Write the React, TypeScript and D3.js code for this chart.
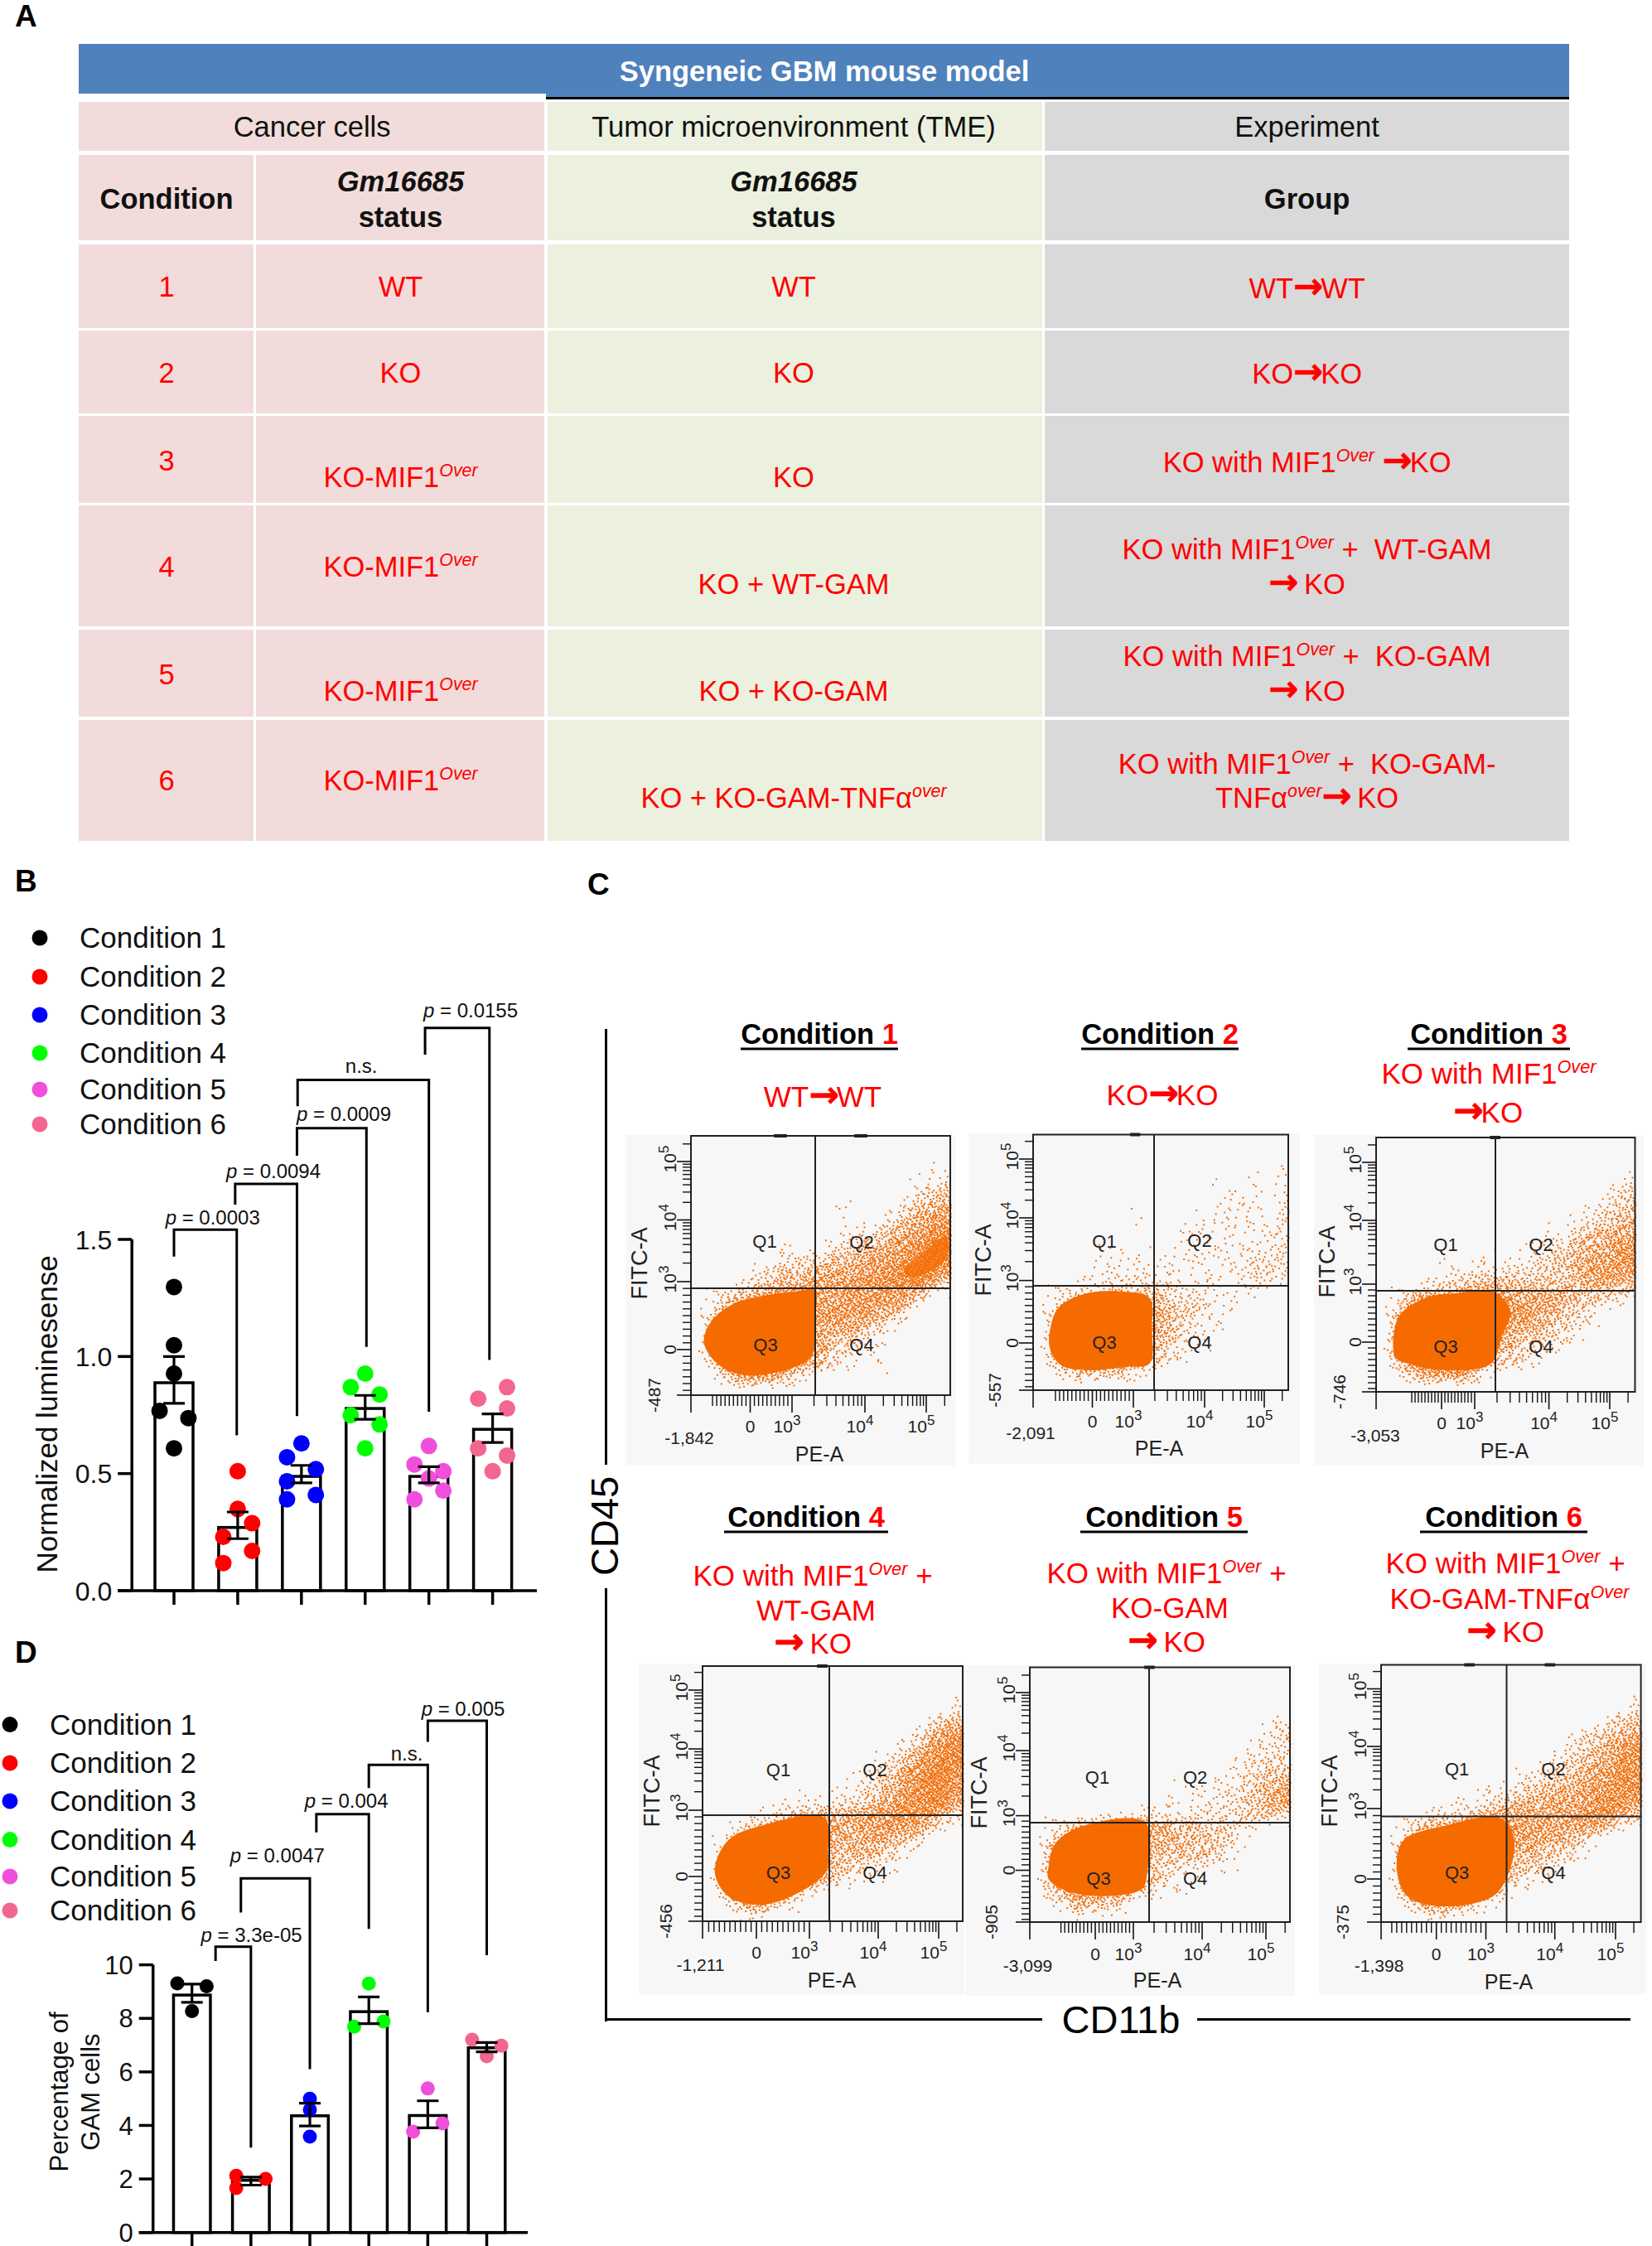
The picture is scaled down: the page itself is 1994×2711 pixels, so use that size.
import React from "react";
import * as d3 from "d3";

const FONT = "'Liberation Sans', Arial, sans-serif";
const RED = "#ff0000";

// ---------- Panel A data ----------
const tableTitle = "Syngeneic GBM mouse model";
const tableGroups = ["Cancer cells", "Tumor microenvironment (TME)", "Experiment"];
const tableConditions = ["1", "2", "3", "4", "5", "6"];
const tableCancer = ["WT", "KO", "KO-MIF1^Over^", "KO-MIF1^Over^", "KO-MIF1^Over^", "KO-MIF1^Over^"];
const tableTme = ["WT", "KO", "KO", "KO + WT-GAM", "KO + KO-GAM", "KO + KO-GAM-TNFα^over^"];
const tableGroup = [
  ["WT→WT"],
  ["KO→KO"],
  ["KO with MIF1^Over^ →KO"],
  ["KO with MIF1^Over^ +  WT-GAM", "→ KO"],
  ["KO with MIF1^Over^ +  KO-GAM", "→ KO"],
  ["KO with MIF1^Over^ +  KO-GAM-", "TNFα^over^→ KO"],
];

// ---------- Panels B and D data ----------
const legendNames = ["Condition 1", "Condition 2", "Condition 3", "Condition 4", "Condition 5", "Condition 6"];
const conditionColors = ["#000000", "#ff0000", "#0000ff", "#00ff00", "#f04fdc", "#f2668f"];

const lumMeans = [0.888, 0.27, 0.488, 0.778, 0.488, 0.689];
const lumUpper = [1.0, 0.336, 0.535, 0.834, 0.529, 0.755];
const lumLower = [0.8, 0.222, 0.46, 0.732, 0.46, 0.633];
const lumDots = [
  [1.297, 1.048, 0.927, 0.768, 0.737, 0.608],
  [0.51, 0.349, 0.288, 0.23, 0.17, 0.118],
  [0.629, 0.57, 0.519, 0.467, 0.409, 0.39],
  [0.927, 0.869, 0.838, 0.749, 0.71, 0.608],
  [0.618, 0.539, 0.51, 0.479, 0.427, 0.39],
  [0.869, 0.82, 0.778, 0.608, 0.577, 0.51],
];
const lumDotSides = [
  [0, 0, 0, -1, 1, 0],
  [0, 0, 1, -1, 1, -1],
  [0, -1, 1, -1, 1, -1],
  [0, -1, 1, -1, 1, 0],
  [0, -1, 1, 0, 1, -1],
  [1, -1, 1, -1, 1, 0],
];
// from, to, top, left foot, right foot, label x, label y, label
const lumBrackets: [number, number, number, number, number, number, number, string][] = [
  [0, 0.985, 1.542, 1.427, 0.663, 0.607, 1.592, "0.0003"],
  [0.96, 1.93, 1.737, 1.649, 0.746, 1.56, 1.79, "0.0094"],
  [1.93, 3.02, 1.975, 1.857, 1.041, 2.665, 2.034, "0.0009"],
  [1.94, 4.0, 2.181, 2.069, 0.764, 2.94, 2.241, "n.s."],
  [3.94, 4.95, 2.403, 2.289, 0.985, 4.654, 2.476, "0.0155"],
];

const gamMeans = [8.87, 1.95, 4.36, 8.25, 4.37, 6.9];
const gamUpper = [9.28, 2.07, 4.83, 8.8, 4.92, 7.1];
const gamLower = [8.6, 1.77, 3.98, 7.8, 3.91, 6.75];
const gamDots = [
  [9.31, 9.2, 8.27],
  [2.12, 2.0, 1.66],
  [5.0, 4.59, 3.58],
  [9.3, 7.69, 7.88],
  [5.38, 3.77, 4.08],
  [7.2, 6.98, 6.58],
];
const gamDotSides = [
  [-1, 1, 0],
  [-1, 1, -1],
  [0, 0, 0],
  [0, -1, 1],
  [0, -1, 1],
  [-1, 1, 0],
];
const gamBrackets: [number, number, number, number, number, number, number, string][] = [
  [0.4, 1.0, 10.68, 10.14, 3.17, 1.01, 11.11, "3.3e-05"],
  [0.83, 2.0, 13.23, 11.95, 6.1, 1.45, 14.07, "0.0047"],
  [2.11, 3.0, 15.63, 14.95, 11.34, 2.62, 16.13, "0.004"],
  [3.0, 4.0, 17.47, 16.6, 8.23, 3.645, 17.89, "n.s."],
  [4.0, 5.0, 19.12, 18.33, 10.36, 4.6, 19.55, "0.005"],
];

// ---------- Panel C data ----------
const flowNumbers = ["1", "2", "3", "4", "5", "6"];
const flowSubtitles = [
  ["WT→WT"],
  ["KO→KO"],
  ["KO with MIF1^Over^", "→KO"],
  ["KO with MIF1^Over^ +", "WT-GAM", "→ KO"],
  ["KO with MIF1^Over^ +", "KO-GAM", "→ KO"],
  ["KO with MIF1^Over^ +", "KO-GAM-TNFα^Over^", "→ KO"],
];
const flowXMin = ["-1,842", "-2,091", "-3,053", "-1,211", "-3,099", "-1,398"];
const flowYMin = ["-487", "-557", "-746", "-456", "-905", "-375"];
// Main Q3 population outline (fraction of plot width, height).
const flowCores: [number, number][][] = [
  [[0.043, 0.798], [0.073, 0.712], [0.159, 0.645], [0.269, 0.614], [0.403, 0.596], [0.483, 0.59], [0.487, 0.7], [0.479, 0.835], [0.428, 0.884], [0.33, 0.918], [0.196, 0.927], [0.098, 0.884]],
  [[0.06, 0.765], [0.096, 0.672], [0.209, 0.616], [0.366, 0.61], [0.462, 0.634], [0.471, 0.752], [0.462, 0.9], [0.366, 0.913], [0.209, 0.926], [0.105, 0.907], [0.06, 0.839]],
  [[0.06, 0.795], [0.086, 0.695], [0.19, 0.626], [0.31, 0.608], [0.457, 0.601], [0.526, 0.682], [0.491, 0.782], [0.448, 0.894], [0.259, 0.919], [0.121, 0.894], [0.069, 0.869]],
  [[0.04, 0.807], [0.093, 0.68], [0.238, 0.617], [0.476, 0.589], [0.489, 0.722], [0.481, 0.807], [0.344, 0.906], [0.212, 0.941], [0.093, 0.906]],
  [[0.066, 0.789], [0.093, 0.69], [0.198, 0.62], [0.45, 0.603], [0.458, 0.803], [0.437, 0.873], [0.251, 0.901], [0.119, 0.873], [0.066, 0.831]],
  [[0.053, 0.791], [0.08, 0.679], [0.239, 0.623], [0.464, 0.589], [0.517, 0.665], [0.504, 0.791], [0.438, 0.902], [0.225, 0.944], [0.093, 0.902]],
];
const flowCore1Upper: [number, number][] = [[0.82, 0.515], [0.89, 0.455], [0.985, 0.385], [0.985, 0.47], [0.91, 0.53], [0.84, 0.545]];
// Event density estimated by eye on a 20x20 grid: 0 empty to 9 dense.
const flowDensity: string[][] = [
  ["00000000000000000000", "00000000000000000000", "00000000000000000010", "00000000000000000112", "00000000000000001234", "00000000000100012456", "00000000000010124677", "00000000000112356789", "00000001011234567899", "00000012224456778899", "00001234456667789997", "00012456667777888952", "01356788866777776200", "02578999767777652000", "03789999766665310000", "04789999865442100000", "03789999764321100000", "02689998753110100000", "00367754200000000000", "00000000000000000000"],
  ["00000000000000000000", "00000000000000000000", "00000000000000000001", "00000000000000100101", "00000000000000011101", "00000000000000111102", "00000000100011111102", "00000000000111111112", "00000100100111111112", "00000110101111112222", "00001111111111111322", "00011222222111111211", "01233444443222111100", "02456666664332110000", "03566666665321100000", "03566666654211100000", "03566666543211000000", "03566666542100000000", "01344443210000000000", "00000000000000000000"],
  ["00000000000000000000", "00000000000000000000", "00000000000000000000", "00000000000000000012", "00000000000000000123", "00000000000000001234", "00000000000000012345", "00000000000001134556", "00000000100112345577", "00000100101123456677", "00000112222233456777", "00012344555444445554", "01466776776666554321", "03678888777765432100", "04678888776654321000", "04678888765443210000", "04678888654322100000", "03678888433210000000", "01467775110000000000", "00000000000000000000"],
  ["00000000000000000000", "00000000000000000000", "00000000000000000001", "00000000000000000012", "00000000000000001245", "00000000000000012578", "00000000000000124789", "00000000000001247899", "00000000000112468998", "00000000001123578997", "00000011111234688996", "00001234445567788753", "00134667666667776310", "01478998765566542100", "02589999664554210000", "03689998654332100000", "03689976543210100000", "02688743210000000000", "01477321000000000000", "00111000000000000000"],
  ["00000000000000000000", "00000000000000000000", "00000000000000000000", "00000000000000000000", "00000000000000000012", "00000000000000000123", "00000000000000001122", "00000000000000012233", "00000000000000112344", "00000000000101123456", "00000000001111223467", "00000111222122223342", "01245776665443332100", "03578888755444321000", "04678888744444310000", "04678888643222110000", "04678888542110000000", "03578775321100000000", "01254431000000000000", "00010100000000000000"],
  ["00000000000000000000", "00000000000000000000", "00000000000000000001", "00000000000000000012", "00000000000000001234", "00000000000000123456", "00000000000000234678", "00000000000012345688", "00000000001123456788", "00000000112345567888", "00000111234556667887", "00012234566666678864", "01356778777766676410", "02578999776665531000", "03688999775543210000", "04688999754432100000", "03688999643210000000", "02677887421000000000", "01477653100000000000", "00011100000000000000"],
];

// ---------- Layout ----------
const tableRowBands: [number, number][] = [[123, 182], [187, 290], [295, 396], [399, 499], [502, 607], [610, 756], [760, 865], [869, 1015]];
const tableCondY = [345.5, 449.6, 555.7, 684, 813.7, 941.6];
const tableCancerY = [345.5, 449.6, 575.6, 684, 833.6, 941.6];
const tableTmeY = [345.5, 449.6, 575.6, 705, 833.6, 963];
const tableGroupY = [[348], [451], [557.7], [663, 705], [792.4, 833.6], [921.7, 963]];

type FlowLayout = {
  bg: number[]; plot: number[]; gate: number[]; xt: number[]; yt: number[];
  xMinAt: number[]; yMinX: number; zeroY: number; pe: number[]; fitc: number[]; q: number[][];
  titleX: number; titleY: number; ulY: number; ulHalf: number; subX: number[]; subY: number[]; top: number[][];
};
const flowLayouts: FlowLayout[] = [
  { bg: [755.5, 1370, 1153.5, 1769], plot: [834, 1371, 1147, 1684], gate: [984, 1555], xt: [905.5, 956, 1044, 1118], yt: [1629, 1547, 1472.5, 1402], xMinAt: [832, 1736], yMinX: 790, zeroY: 1722, pe: [989, 1755], fitc: [772, 1525], q: [[923, 1498], [1040, 1499], [924, 1623], [1040, 1623]], titleX: 989, titleY: 1248, ulY: 1266, ulHalf: 95, subX: [993], subY: [1324], top: [[0.32, 0.37], [0.63, 0.68]] },
  { bg: [1169, 1368, 1569, 1767], plot: [1247, 1369.5, 1555, 1678], gate: [1393, 1552], xt: [1318.5, 1368, 1454, 1526], yt: [1621, 1545.6, 1470, 1399], xMinAt: [1244, 1730], yMinX: 1201, zeroY: 1715.5, pe: [1399, 1748], fitc: [1187, 1521], q: [[1333, 1498], [1448, 1497], [1333, 1620], [1448, 1620]], titleX: 1400, titleY: 1248, ulY: 1266, ulHalf: 95, subX: [1403], subY: [1322], top: [[0.38, 0.42]] },
  { bg: [1586, 1370, 1984, 1769], plot: [1661, 1373, 1973.5, 1680], gate: [1805, 1558], xt: [1740, 1780, 1869.6, 1943], yt: [1620, 1550, 1473, 1403], xMinAt: [1660, 1733], yMinX: 1617, zeroY: 1718, pe: [1816, 1751], fitc: [1602, 1523], q: [[1745, 1502], [1860, 1502], [1745, 1625], [1860, 1625]], titleX: 1797, titleY: 1248, ulY: 1266, ulHalf: 98, subX: [1797, 1796], subY: [1296, 1343], top: [[0.44, 0.48]] },
  { bg: [771, 2008, 1164, 2407], plot: [848, 2011, 1162, 2319], gate: [1001, 2191], xt: [913, 977, 1060, 1133], yt: [2265, 2185, 2111, 2040], xMinAt: [845.5, 2372], yMinX: 804, zeroY: 2357, pe: [1004, 2390], fitc: [787, 2162], q: [[939.5, 2136], [1056, 2136], [939.5, 2260], [1056, 2260]], titleX: 973, titleY: 1831, ulY: 1849, ulHalf: 99, subX: [981, 985, 981], subY: [1902, 1944, 1984], top: [[0.44, 0.48]] },
  { bg: [1166, 2010, 1563, 2409], plot: [1243, 2012.5, 1557, 2320], gate: [1387, 2200], xt: [1322, 1368, 1451, 1528], yt: [2257.5, 2191.6, 2113, 2043], xMinAt: [1240.5, 2373], yMinX: 1197, zeroY: 2359, pe: [1397, 2390], fitc: [1182, 2164], q: [[1324.5, 2145], [1442.6, 2145], [1326, 2267], [1442.6, 2267]], titleX: 1405, titleY: 1831, ulY: 1849, ulHalf: 101, subX: [1408, 1412, 1408], subY: [1899, 1941, 1982], top: [[0.44, 0.48]] },
  { bg: [1592, 2008, 1987, 2407], plot: [1667, 2009.5, 1980.6, 2320], gate: [1818.5, 2192.5], xt: [1733.7, 1793.5, 1876.7, 1950], yt: [2268, 2183, 2108, 2038.5], xMinAt: [1664.6, 2373], yMinX: 1621, zeroY: 2359, pe: [1821, 2392], fitc: [1605, 2162], q: [[1758.6, 2135], [1875, 2135], [1758.6, 2260], [1875, 2260]], titleX: 1815, titleY: 1831, ulY: 1849, ulHalf: 101, subX: [1817, 1822, 1817], subY: [1887, 1930, 1970], top: [[0.32, 0.36], [0.63, 0.67]] },
];

// ---------- Helpers ----------
function Rich({ x, y, text, size = 34.5, fill = RED, anchor = "middle" }: { x: number; y: number; text: string; size?: number; fill?: string; anchor?: string }) {
  const parts = text.split(/(\^[^^]+\^|→)/).filter((p) => p.length);
  const rise = size * 0.38;
  let pendingDy = 0;
  return (
    <text x={x} y={y + size * 0.35} textAnchor={anchor} fontFamily={FONT} fontSize={size} fill={fill} xmlSpace="preserve">
      {parts.map((p, i) => {
        if (p.startsWith("^")) {
          pendingDy = rise;
          return <tspan key={i} dy={-rise} fontSize={size * 0.62} fontStyle="italic">{p.slice(1, -1)}</tspan>;
        }
        const dy = pendingDy;
        pendingDy = 0;
        if (p === "→") {
          return <tspan key={i} dy={dy} fontFamily="'DejaVu Sans'" fontWeight="bold" fontSize={size * 1.25} letterSpacing={-3} stroke={fill} strokeWidth={0.6}>{p}</tspan>;
        }
        return <tspan key={i} dy={dy}>{p}</tspan>;
      })}
    </text>
  );
}

// Radical-inverse low-discrepancy sequence: a fixed stipple, no randomness.
function halton(k: number, base: number) {
  let f = 1;
  let r = 0;
  let i = k;
  while (i > 0) {
    f /= base;
    r += f * (i % base);
    i = Math.floor(i / base);
  }
  return r;
}

function stipplePath(grid: string[], sx: d3.ScaleLinear<number, number>, sy: d3.ScaleLinear<number, number>) {
  const n = 24000;
  const cell = (i: number, j: number) => {
    const r = grid[Math.max(0, Math.min(19, j))];
    return +r[Math.max(0, Math.min(19, i))];
  };
  let d = "";
  for (let k = 1; k <= n; k++) {
    const u = halton(k, 2);
    const v = halton(k, 3);
    const gx = u * 20 - 0.5;
    const gy = v * 20 - 0.5;
    const i = Math.floor(gx);
    const j = Math.floor(gy);
    const fx = gx - i;
    const fy = gy - j;
    const dens =
      (cell(i, j) * (1 - fx) * (1 - fy) + cell(i + 1, j) * fx * (1 - fy) + cell(i, j + 1) * (1 - fx) * fy + cell(i + 1, j + 1) * fx * fy) / 9;
    if (halton(k, 7) < Math.pow(dens, 1.35)) {
      d += `M${sx(u).toFixed(1)} ${sy(v).toFixed(1)}h2v2h-2z`;
    }
  }
  return d;
}

function shrink(pts: [number, number][], s: number): [number, number][] {
  const cx = d3.mean(pts, (p) => p[0]) as number;
  const cy = d3.mean(pts, (p) => p[1]) as number;
  return pts.map((p) => [cx + (p[0] - cx) * s, cy + (p[1] - cy) * s]);
}

function FlowPanel({ idx }: { idx: number }) {
  const L = flowLayouts[idx];
  const [x0, y0, x1, y1] = L.plot;
  const sx = d3.scaleLinear().domain([0, 1]).range([x0, x1]);
  const sy = d3.scaleLinear().domain([0, 1]).range([y0, y1]);
  const blob = d3.line<[number, number]>().x((p) => sx(p[0])).y((p) => sy(p[1])).curve(d3.curveCatmullRomClosed.alpha(0.5));
  const [xz, x3, x4, x5] = L.xt;
  const [yz, y3, y4, y5] = L.yt;
  // logicle-like axes: linear round zero, log above 10^3
  const logX = d3.scaleLog().domain([1e3, 1e4]).range([x3, x4]);
  const logX2 = d3.scaleLog().domain([1e4, 1e5]).range([x4, x5]);
  const logY = d3.scaleLog().domain([1e3, 1e4]).range([y3, y4]);
  const logY2 = d3.scaleLog().domain([1e4, 1e5]).range([y4, y5]);
  const linX = d3.scaleLinear().domain([0, 1e3]).range([xz, x3]);
  const linY = d3.scaleLinear().domain([0, 1e3]).range([yz, y3]);
  const decade = d3.range(2, 10);
  const lin = d3.range(-900, 1000, 100).filter((v) => v !== 0);
  const xMinor = [
    ...lin.map((v) => linX(v)),
    ...decade.map((m) => logX(m * 1e3)),
    ...decade.map((m) => logX2(m * 1e4)),
    ...[2e5, 3e5].map((v) => logX2(v)),
  ].filter((p) => p > x0 + 2 && p < x1);
  const yMinor = [
    ...d3.range(-900, 1000, 100).filter((v) => v !== 0).map((v) => linY(v)),
    ...decade.map((m) => logY(m * 1e3)),
    ...decade.map((m) => logY2(m * 1e4)),
    ...[2e5].map((v) => logY2(v)),
  ].filter((p) => p > y0 && p < y1 - 2);
  const subs = flowSubtitles[idx];
  const tick = "#111";
  return (
    <g fontFamily={FONT}>
      <rect x={L.bg[0]} y={L.bg[1]} width={L.bg[2] - L.bg[0]} height={L.bg[3] - L.bg[1]} fill="#f7f7f7" />
      <path d={stipplePath(flowDensity[idx], sx, sy)} fill="#f2700c" />
      <path d={blob(shrink(flowCores[idx], 0.97)) || ""} fill="#f56b00" />
      {idx === 0 && <path d={blob(flowCore1Upper) || ""} fill="#f56b00" opacity={0.75} />}
      <rect x={x0} y={y0} width={x1 - x0} height={y1 - y0} fill="none" stroke="#222" strokeWidth={2} />
      <line x1={L.gate[0]} x2={L.gate[0]} y1={y0} y2={y1} stroke="#222" strokeWidth={2} />
      <line x1={x0} x2={x1} y1={L.gate[1]} y2={L.gate[1]} stroke="#222" strokeWidth={2} />
      {L.top.map((t, i) => <line key={i} x1={sx(t[0])} x2={sx(t[1])} y1={y0} y2={y0} stroke="#222" strokeWidth={4} />)}
      {xMinor.map((p, i) => <line key={i} x1={p} x2={p} y1={y1} y2={y1 + 13} stroke={tick} strokeWidth={1.4} />)}
      {[x0, xz, x3, x4, x5].map((p, i) => <line key={i} x1={p} x2={p} y1={y1} y2={y1 + 21} stroke={tick} strokeWidth={1.6} />)}
      {yMinor.map((p, i) => <line key={i} x1={x0 - 10} x2={x0} y1={p} y2={p} stroke={tick} strokeWidth={1.4} />)}
      {[y1, yz, y3, y4, y5].map((p, i) => <line key={i} x1={x0 - 17} x2={x0} y1={p} y2={p} stroke={tick} strokeWidth={1.6} />)}
      <g fill="#222" fontSize={21}>
        <text x={L.xMinAt[0]} y={L.xMinAt[1] + 7} textAnchor="middle">{flowXMin[idx]}</text>
        <text x={xz} y={L.zeroY + 7} textAnchor="middle">0</text>
        {[x3, x4, x5].map((p, i) => (
          <text key={i} x={p - 6} y={L.zeroY + 7} textAnchor="middle">10<tspan dy={-9} fontSize={17}>{i + 3}</tspan></text>
        ))}
        <text transform={`translate(${L.yMinX + 7},${y1}) rotate(-90)`} textAnchor="middle">{flowYMin[idx]}</text>
        <text transform={`translate(${x0 - 18},${yz}) rotate(-90)`} textAnchor="middle">0</text>
        {[y3, y4, y5].map((p, i) => (
          <text key={i} transform={`translate(${x0 - 18},${p - 3}) rotate(-90)`} textAnchor="middle">10<tspan dy={-9} fontSize={17}>{i + 3}</tspan></text>
        ))}
        <text x={L.pe[0]} y={L.pe[1] + 9} textAnchor="middle" fontSize={25}>PE-A</text>
        <text transform={`translate(${L.fitc[0] + 9},${L.fitc[1]}) rotate(-90)`} textAnchor="middle" fontSize={27}>FITC-A</text>
        {L.q.map((q, i) => <text key={i} x={q[0]} y={q[1] + 8} textAnchor="middle" fontSize={22}>{`Q${i + 1}`}</text>)}
      </g>
      <text x={L.titleX} y={L.titleY + 12} textAnchor="middle" fontSize={34.5} fontWeight="bold" fill="#000">
        Condition <tspan fill={RED}>{flowNumbers[idx]}</tspan>
      </text>
      <line x1={L.titleX - L.ulHalf} x2={L.titleX + L.ulHalf} y1={L.ulY} y2={L.ulY} stroke="#000" strokeWidth={3} />
      {subs.map((s, i) => <Rich key={i} x={L.subX[i]} y={L.subY[i]} text={s} size={35} />)}
    </g>
  );
}

type BarProps = {
  sx: d3.ScaleLinear<number, number>; sy: d3.ScaleLinear<number, number>;
  means: number[]; upper: number[]; lower: number[]; dots: number[][]; sides: number[][];
  brackets: [number, number, number, number, number, number, number, string][];
  ticks: number[]; tickFmt: (v: number) => string; xEnd: number; barW: number; r: number; jitter: number; tickSize: number;
};
function BarPanel({ sx, sy, means, upper, lower, dots, sides, brackets, ticks, tickFmt, xEnd, barW, r, jitter, tickSize }: BarProps) {
  const x0 = sx(0) - (sx(1) - sx(0)) * 0.66;
  const yBase = sy(0);
  return (
    <g fontFamily={FONT}>
      {means.map((m, i) => (
        <rect key={i} x={sx(i) - barW / 2} y={sy(m)} width={barW} height={yBase - sy(m)} fill="#fff" stroke="#000" strokeWidth={3.5} />
      ))}
      {dots.map((vals, i) => vals.map((v, j) => (
        <circle key={`${i}-${j}`} cx={sx(i) + sides[i][j] * jitter} cy={sy(v)} r={r} fill={conditionColors[i]} />
      )))}
      {means.map((_, i) => (
        <path key={i} fill="none" stroke="#000" strokeWidth={3.2}
          d={`M${sx(i) - 13} ${sy(upper[i])}H${sx(i) + 13}M${sx(i)} ${sy(upper[i])}V${sy(lower[i])}M${sx(i) - 13} ${sy(lower[i])}H${sx(i) + 13}`} />
      ))}
      <line x1={x0} x2={x0} y1={sy(ticks[ticks.length - 1])} y2={yBase} stroke="#000" strokeWidth={3.5} />
      <line x1={x0 - 17} x2={xEnd} y1={yBase} y2={yBase} stroke="#000" strokeWidth={3.5} />
      {ticks.map((t) => (
        <g key={t}>
          <line x1={x0 - 17} x2={x0} y1={sy(t)} y2={sy(t)} stroke="#000" strokeWidth={3.5} />
          <text x={x0 - 24} y={sy(t) + tickSize * 0.36} textAnchor="end" fontSize={tickSize} fill="#111">{tickFmt(t)}</text>
        </g>
      ))}
      {means.map((_, i) => <line key={i} x1={sx(i)} x2={sx(i)} y1={yBase} y2={yBase + 17} stroke="#000" strokeWidth={3.5} />)}
      {brackets.map((b, i) => (
        <g key={i}>
          <path fill="none" stroke="#000" strokeWidth={3} d={`M${sx(b[0])} ${sy(b[3])}V${sy(b[2])}H${sx(b[1])}V${sy(b[4])}`} />
          <text x={sx(b[5])} y={sy(b[6]) + 8} textAnchor="middle" fontSize={24} fill="#111">
            {b[7] === "n.s." ? "n.s." : <><tspan fontStyle="italic">p</tspan>{` = ${b[7]}`}</>}
          </text>
        </g>
      ))}
    </g>
  );
}

function Legend({ dotX, textX, ys, r }: { dotX: number; textX: number; ys: number[]; r: number }) {
  return (
    <g fontFamily={FONT}>
      {legendNames.map((n, i) => (
        <g key={n}>
          <circle cx={dotX} cy={ys[i]} r={r} fill={conditionColors[i]} />
          <text x={textX} y={ys[i] + 12} fontSize={35} fill="#111">{n}</text>
        </g>
      ))}
    </g>
  );
}

function Table() {
  const colors = ["#f2dcdb", "#ebf1de", "#d9d9d9"];
  return (
    <g fontFamily={FONT}>
      <rect x={95} y={53} width={1799} height={60} fill="#4f81bd" />
      <rect x={659} y={113} width={1235} height={4} fill="#4f81bd" />
      <rect x={659} y={117} width={1235} height={3} fill="#000" />
      <text x={995} y={98} textAnchor="middle" fontSize={34.5} fontWeight="bold" fill="#fff">{tableTitle}</text>
      {tableRowBands.map(([a, b], r) => (
        <g key={r}>
          {r === 0 ? (
            <rect x={95} y={a} width={562} height={b - a} fill={colors[0]} />
          ) : (
            <>
              <rect x={95} y={a} width={211} height={b - a} fill={colors[0]} />
              <rect x={309} y={a} width={348} height={b - a} fill={colors[0]} />
            </>
          )}
          <rect x={661} y={a} width={597} height={b - a} fill={colors[1]} />
          <rect x={1261} y={a} width={633} height={b - a} fill={colors[2]} />
        </g>
      ))}
      {tableGroups.map((t, i) => (
        <text key={t} x={[376.6, 958, 1577.6][i]} y={165} textAnchor="middle" fontSize={34.5} fill="#111">{t}</text>
      ))}
      <g fontSize={34.5} fontWeight="bold" textAnchor="middle" fill="#111">
        <text x={201} y={252}>Condition</text>
        <text x={483.5} y={231} fontStyle="italic">Gm16685</text>
        <text x={483.5} y={274}>status</text>
        <text x={958} y={231} fontStyle="italic">Gm16685</text>
        <text x={958} y={274}>status</text>
        <text x={1577.6} y={252}>Group</text>
      </g>
      {tableConditions.map((c, i) => (
        <g key={c}>
          <Rich x={201} y={tableCondY[i]} text={c} />
          <Rich x={483.5} y={tableCancerY[i]} text={tableCancer[i]} />
          <Rich x={958} y={tableTmeY[i]} text={tableTme[i]} />
          {tableGroup[i].map((g, j) => <Rich key={j} x={1577.6} y={tableGroupY[i][j]} text={g} />)}
        </g>
      ))}
    </g>
  );
}

export default function App() {
  const bx = d3.scaleLinear().domain([0, 5]).range([210, 594.6]);
  const by = d3.scaleLinear().domain([0, 1.5]).range([1920, 1496]);
  const dx = d3.scaleLinear().domain([0, 5]).range([231.7, 587.5]);
  const dy = d3.scaleLinear().domain([0, 10]).range([2694.7, 2371.6]);
  return (
    <svg width={1994} height={2711} viewBox="0 0 1994 2711" style={{ position: "absolute", left: 0, top: 0, background: "#fff" }}>
      <g fontFamily={FONT} fontWeight="bold" fontSize={37} fill="#000">
        <text x={18} y={32}>A</text>
        <text x={18} y={1076}>B</text>
        <text x={709} y={1080}>C</text>
        <text x={18} y={2007}>D</text>
      </g>
      <Table />
      <Legend dotX={48} textX={96} ys={[1132, 1179, 1225, 1271, 1315, 1357]} r={9.5} />
      <BarPanel sx={bx} sy={by} means={lumMeans} upper={lumUpper} lower={lumLower} dots={lumDots} sides={lumDotSides} brackets={lumBrackets}
        ticks={[0, 0.5, 1, 1.5]} tickFmt={(v) => v.toFixed(1)} xEnd={648} barW={46} r={10} jitter={17.4} tickSize={32} />
      <text transform="translate(69,1707) rotate(-90)" textAnchor="middle" fontFamily={FONT} fontSize={35} fill="#111">Normalized luminesense</text>

      <Legend dotX={12} textX={60} ys={[2081.6, 2128, 2174, 2220.6, 2265, 2306]} r={9.5} />
      <BarPanel sx={dx} sy={dy} means={gamMeans} upper={gamUpper} lower={gamLower} dots={gamDots} sides={gamDotSides} brackets={gamBrackets}
        ticks={[0, 2, 4, 6, 8, 10]} tickFmt={(v) => `${v}`} xEnd={637} barW={44.5} r={8.5} jitter={17.7} tickSize={31} />
      <g fontFamily={FONT} fontSize={31} fill="#111" textAnchor="middle">
        <text transform="translate(82,2525) rotate(-90)">Percentage of</text>
        <text transform="translate(120,2525) rotate(-90)">GAM cells</text>
      </g>

      {flowLayouts.map((_, i) => <FlowPanel key={i} idx={i} />)}

      <g stroke="#000" strokeWidth={3}>
        <line x1={731.5} x2={731.5} y1={1242} y2={1768} />
        <line x1={731.5} x2={731.5} y1={1917} y2={2440} />
        <line x1={733} x2={1258} y1={2437.5} y2={2437.5} />
        <line x1={1445} x2={1968} y1={2437.5} y2={2437.5} />
      </g>
      <g fontFamily={FONT} fontSize={47} fill="#000" textAnchor="middle">
        <text transform="translate(746,1842) rotate(-90)">CD45</text>
        <text x={1353} y={2454}>CD11b</text>
      </g>
    </svg>
  );
}
